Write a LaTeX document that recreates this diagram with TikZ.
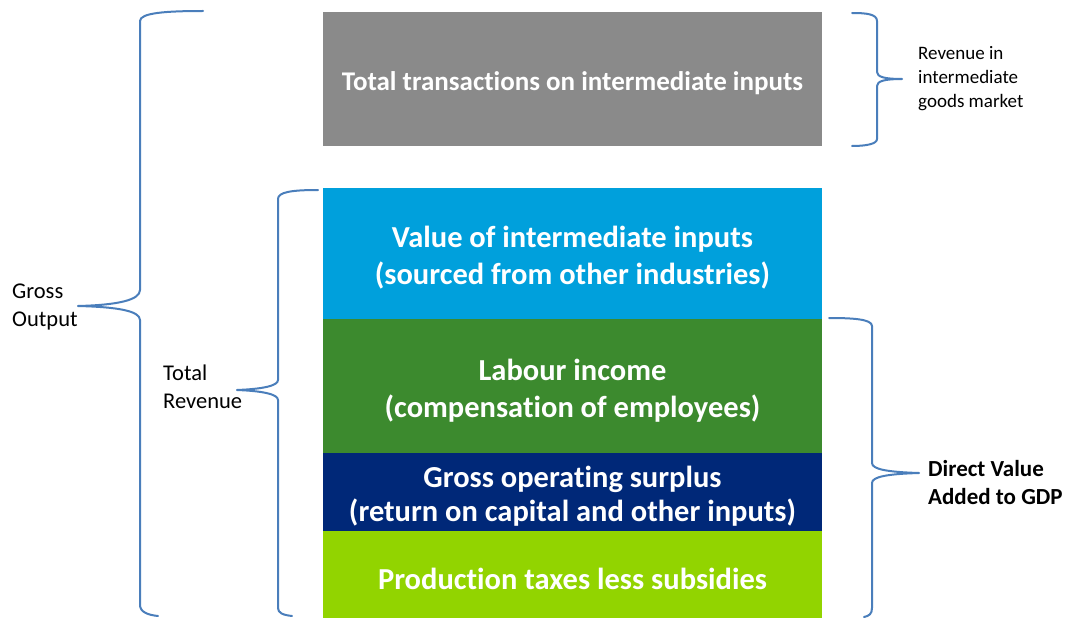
\documentclass[tikz,border=0pt]{standalone}
\usepackage{fontspec}
\setmainfont{Carlito}[Ligatures=NoCommon]
\usetikzlibrary{positioning}
\definecolor{transgray}{HTML}{8A8A8A}
\definecolor{inputblue}{HTML}{00A0DC}
\definecolor{labourgreen}{HTML}{3C8A2E}
\definecolor{surplusnavy}{HTML}{002878}
\definecolor{taxlime}{HTML}{92D400}
\definecolor{bracecol}{HTML}{4A7EBB}
\newcommand{\topstrut}{\rule{0pt}{1em}}
\begin{document}
\begin{tikzpicture}[x=1pt, y=1pt, line join=round, line cap=round,
  layer/.style={draw=none, inner sep=0pt, outer sep=0pt, minimum width=499pt, text=white, align=center, font=\bfseries\fontsize{30.5}{37}\selectfont},
  brace/.style={draw=bracecol, line width=2pt},
  lbl/.style={inner sep=0pt, anchor=west, align=left, font=\fontsize{22.5}{28}\selectfont}]
 \useasboundingbox (0,0) rectangle (1072,-618);
 % stacked blocks
 \node[layer, fill=transgray, minimum height=134pt, anchor=north west, font=\bfseries\fontsize{27}{32}\selectfont] (trans) at (323,-12) {\topstrut Total transactions on intermediate inputs};
 \node[layer, fill=inputblue, minimum height=131pt, below=42pt of trans] (inputs) {\topstrut Value of intermediate inputs\\(sourced from other industries)};
 \node[layer, fill=labourgreen, minimum height=134pt, below=0pt of inputs] (labour) {\topstrut Labour income\\(compensation of employees)};
 \node[layer, fill=surplusnavy, minimum height=78pt, below=0pt of labour, font=\bfseries\fontsize{30.5}{34}\selectfont] (surplus) {\topstrut Gross operating surplus\\(return on capital and other inputs)};
 \node[layer, fill=taxlime, minimum height=87pt, below=0pt of surplus] (taxes) {\topstrut Production taxes less subsidies};
 % braces
 \draw[brace] (203,-11) .. controls (165,-11) and (140,-13) .. (140,-21) -- (140,-290) .. controls (140,-300) and (118,-305) .. (78,-306) .. controls (118,-307) and (140,-311) .. (140,-320) -- (140,-605) .. controls (140,-612) and (148,-615) .. (158,-616);
 \draw[brace] (318,-190) .. controls (292,-190) and (278,-192) .. (278,-199) -- (278,-380) .. controls (278,-386) and (262,-389) .. (237,-390) .. controls (262,-391) and (278,-394) .. (278,-400) -- (278,-608) .. controls (278,-613) and (283,-615) .. (292,-616);
 \draw[brace] (852,-13) .. controls (866,-13) and (877,-14) .. (877,-21) -- (877,-72) .. controls (877,-77) and (885,-79) .. (902,-79) .. controls (885,-79) and (877,-81) .. (877,-86) -- (877,-139) .. controls (877,-144) and (866,-146) .. (852,-146);
 \draw[brace] (829,-318) .. controls (852,-318) and (872,-319) .. (872,-326) -- (872,-463) .. controls (872,-469) and (886,-472) .. (919,-473) .. controls (886,-474) and (872,-477) .. (872,-483) -- (872,-608) .. controls (872,-614) and (869,-616) .. (864,-617);
 % labels
 \node[lbl] (gross) at (12,-307) {Gross\\Output};
 \node[lbl] (totrev) at (163,-387) {Total\\Revenue};
 \node[lbl, font=\fontsize{19}{24}\selectfont] (market) at (918,-79) {Revenue in\\intermediate\\goods market};
 \node[lbl, font=\bfseries\fontsize{23}{28}\selectfont] (gdp) at (928,-483) {Direct Value\\Added to GDP};
\end{tikzpicture}
\end{document}
